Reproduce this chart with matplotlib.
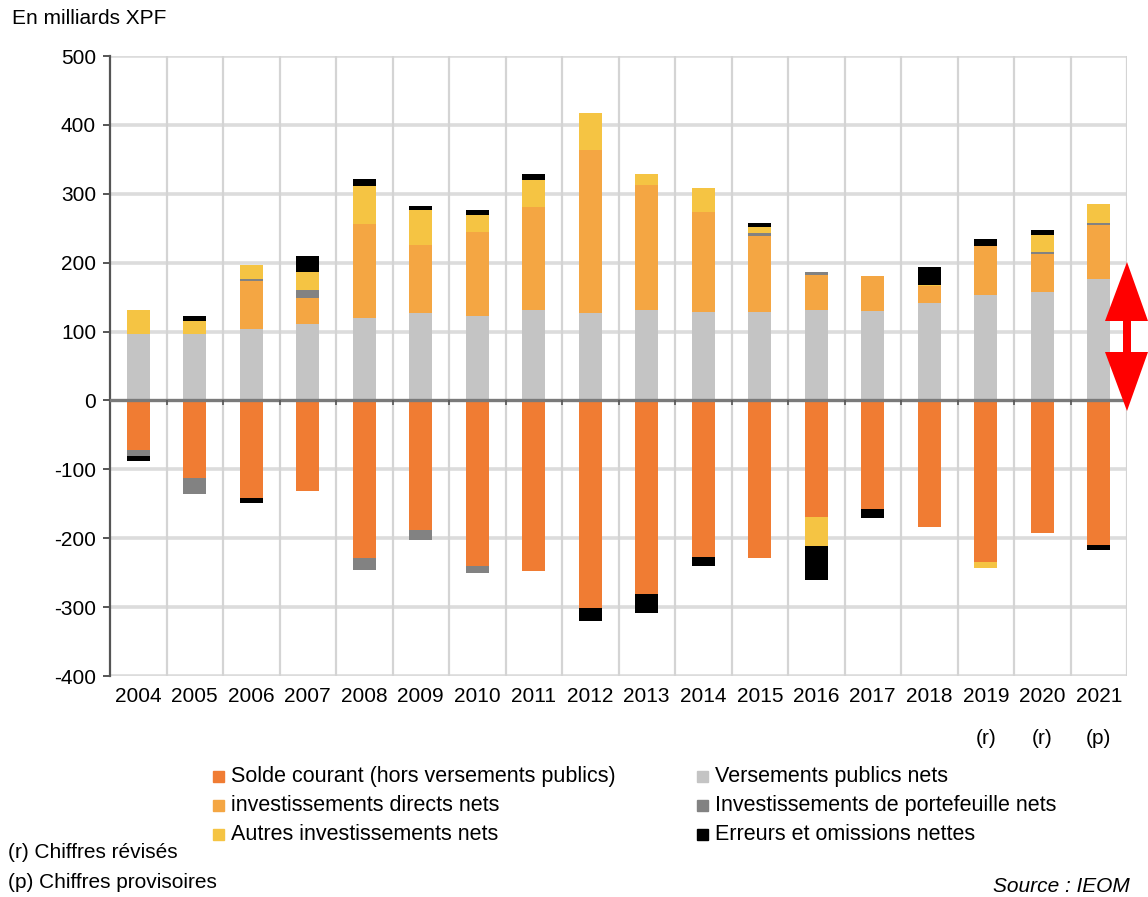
import numpy as np
import matplotlib.pyplot as plt
from matplotlib.patches import Polygon

plt.rcParams['font.family'] = ['Liberation Sans', 'DejaVu Sans']
plt.rcParams['axes.unicode_minus'] = False

years = ['2004', '2005', '2006', '2007', '2008', '2009', '2010', '2011', '2012',
         '2013', '2014', '2015', '2016', '2017', '2018', '2019\n(r)', '2020\n(r)', '2021\n(p)']

# en milliards XPF
solde = [-72, -113, -142, -132, -229, -188, -241, -248, -302,
         -281, -227, -229, -169, -158, -183, -235, -192, -210]
versements = [97, 97, 103, 111, 119, 127, 123, 131, 127,
              131, 129, 129, 131, 130, 141, 153, 158, 176]
directs = [0, 0, 71, 37, 137, 99, 122, 150, 237,
           182, 145, 109, 51, 50, 25, 71, 55, 79]
portefeuille = [-9, -23, 2, 12, -17, -15, -10, 0, 0,
                0, 0, 5, 5, 0, 0, 0, 3, 2]
autres = [35, 19, 21, 27, 55, 50, 24, 39, 53,
          16, 34, 9, -43, 0, 2, -8, 24, 28]
erreurs = [-7, 7, -7, 23, 10, 6, 8, 9, -18,
           -27, -13, 6, -48, -12, 25, 11, 7, -7]

series = [
    ('Solde courant (hors versements publics)', solde, '#F07C33'),
    ('investissements directs nets', directs, '#F4A643'),
    ('Autres investissements nets', autres, '#F5C443'),
    ('Versements publics nets', versements, '#C4C4C4'),
    ('Investissements de portefeuille nets', portefeuille, '#828282'),
    ('Erreurs et omissions nettes', erreurs, '#000000'),
]
stack_order = [0, 3, 1, 4, 2, 5]

W, H = 1148, 897
fig = plt.figure(figsize=(W / 100, H / 100), dpi=100)
ax = fig.add_axes([110 / W, 1 - 676 / H, 1017 / W, 620 / H])

x = np.arange(len(years))
pos_base = np.zeros(len(years))
neg_base = np.zeros(len(years))
for i in stack_order:
    name, vals, col = series[i]
    v = np.array(vals, dtype=float)
    base = np.where(v >= 0, pos_base, neg_base)
    ax.bar(x, v, 0.4, bottom=base, color=col, zorder=3)
    pos_base += np.where(v > 0, v, 0)
    neg_base += np.where(v < 0, v, 0)

ax.set_xlim(-0.5, len(years) - 0.5)
ax.set_ylim(-400, 500)
ax.set_yticks(range(-400, 501, 100))
for yv in range(-400, 501, 100):
    if yv != 0:
        ax.axhline(yv, color='#DCDCDC', lw=2.6, zorder=1)
for k in range(len(years)):
    ax.axvline(k + 0.5, color='#D4D4D4', lw=1.6, zorder=1)
ax.axhline(0, color='#7A7A7A', lw=2.4, zorder=4)
ax.vlines(x[:-1] + 0.5, -6, 0, color='#555555', lw=1.2, zorder=4)

for s in ['top', 'right', 'bottom']:
    ax.spines[s].set_visible(False)
ax.spines['left'].set_color('#555555')
ax.spines['left'].set_linewidth(1.6)
ax.tick_params(axis='y', length=5, width=1.4, color='#555555', labelsize=15, pad=5)
ax.tick_params(axis='x', length=0, labelsize=15, pad=8)
ax.set_xticks(x)
ax.set_xticklabels(years, linespacing=2.5, va='top')

fig.text(12 / W, 1 - 19 / H, 'En milliards XPF', fontsize=15, va='center', ha='left')

# légende
legend_rows = [(0, 3), (1, 4), (2, 5)]
for r, (a, b) in enumerate(legend_rows):
    yy = 1 - (776 + r * 29) / H
    for idx, xm in ((a, 213), (b, 697)):
        name, vals, col = series[idx]
        fig.patches.append(plt.Rectangle((xm / W, yy - 5.5 / H), 11 / W, 11 / H,
                                         color=col, transform=fig.transFigure, figure=fig))
        fig.text((xm + 18) / W, yy, name, fontsize=15.5, va='center', ha='left')

fig.text(8 / W, 1 - 852 / H, '(r) Chiffres révisés', fontsize=15, va='center')
fig.text(8 / W, 1 - 882 / H, '(p) Chiffres provisoires', fontsize=15, va='center')
fig.text(1130 / W, 1 - 886 / H, 'Source : IEOM', fontsize=15, style='italic',
         va='center', ha='right')

# flèche rouge double
pts = [(1127, 262), (1148, 321), (1131, 321), (1131, 352), (1148, 352), (1127, 411),
       (1105, 352), (1123, 352), (1123, 321), (1105, 321)]
fig.patches.append(Polygon([(px / W, 1 - py / H) for px, py in pts], closed=True,
                           facecolor='#FF0000', edgecolor='none',
                           transform=fig.transFigure, figure=fig))

fig.savefig('out.png', dpi=100)
